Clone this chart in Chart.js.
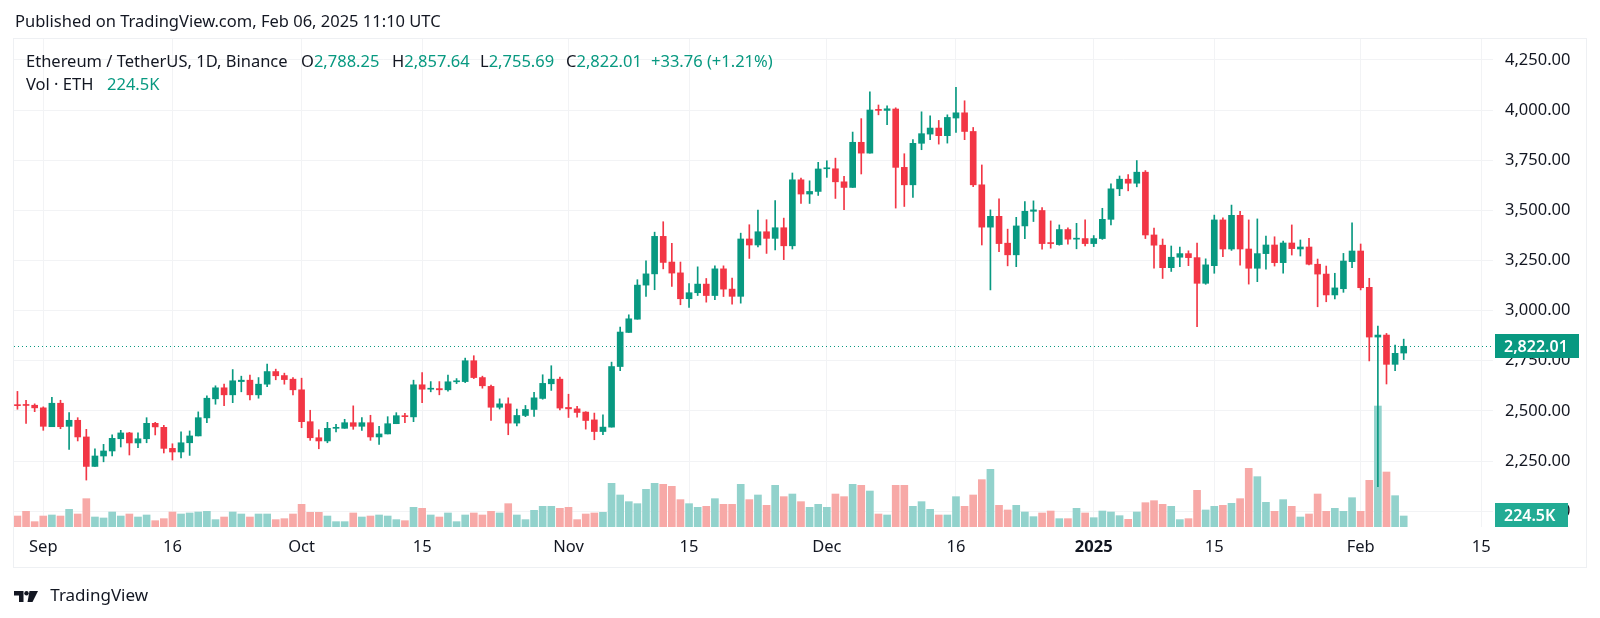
<!DOCTYPE html>
<html>
<head>
<meta charset="utf-8">
<script src="https://cdn.jsdelivr.net/npm/chart.js@4.4.1/dist/chart.umd.min.js"></script>
<style>
  html, body { margin: 0; padding: 0; background: #fff; }
  body { width: 1600px; height: 618px; position: relative; overflow: hidden; font-family: "Noto Sans", sans-serif; color: #131722; }
  #frame { position: absolute; left: 13px; top: 38px; width: 1572px; height: 528px; border: 1px solid #eef0f3; }
  #wrap { position: absolute; left: 0; top: 0; width: 1600px; height: 618px; }
  .txt { position: absolute; white-space: nowrap; font-size: 16.5px; line-height: 22px; }
  .g { color: #089981; }
</style>
</head>
<body>
<div id="frame"></div>
<div id="wrap"><canvas id="ethChart" width="1600" height="618"></canvas></div>

<div class="txt" style="left:15px;top:10px;">Published on TradingView.com, Feb 06, 2025 11:10 UTC</div>
<div class="txt" style="left:26px;top:50px;">Ethereum / TetherUS, 1D, Binance</div>
<div class="txt" style="left:301px;top:50px;">O<span class="g">2,788.25</span></div>
<div class="txt" style="left:392px;top:50px;">H<span class="g">2,857.64</span></div>
<div class="txt" style="left:480px;top:50px;">L<span class="g">2,755.69</span></div>
<div class="txt" style="left:566px;top:50px;">C<span class="g">2,822.01</span></div>
<div class="txt g" style="left:651px;top:50px;">+33.76 (+1.21%)</div>
<div class="txt" style="left:26px;top:73px;">Vol · ETH</div>
<div class="txt g" style="left:107px;top:73px;">224.5K</div>

<div class="txt" style="left:14px;top:584px;">
  <svg width="24" height="11" viewBox="0 0 24 11" style="vertical-align:-1px">
    <path d="M0 0h9.5v11h-4.5v-6.5H0z" fill="#131722"/>
    <circle cx="12.5" cy="2.2" r="2.2" fill="#131722"/>
    <path d="M15.5 0H24L18.5 11h-5z" fill="#131722"/>
  </svg>
  <span style="margin-left:8px;font-size:17px;">TradingView</span>
</div>

<script>
// ETH/USDT daily candles, first candle 29 Aug 2024 (day -3 counted from 1 Sep 2024)
const firstDay = -3;

const open = [
  2528, 2528, 2528, 2515, 2421, 2538, 2423, 2453, 2370, 2223,
  2275, 2300, 2361, 2390, 2340, 2361, 2438, 2418, 2313, 2295,
  2341, 2375, 2465, 2560, 2615, 2580, 2646, 2653, 2580, 2633,
  2696, 2676, 2658, 2605, 2446, 2366, 2350, 2413, 2413, 2441,
  2423, 2441, 2370, 2385, 2436, 2476, 2470, 2630, 2608, 2611,
  2605, 2645, 2646, 2750, 2666, 2622, 2518, 2535, 2439, 2477,
  2507, 2562, 2635, 2658, 2517, 2510, 2494, 2455, 2397, 2419,
  2721, 2891, 2957, 3127, 3183, 3370, 3242, 3188, 3059, 3089,
  3132, 3075, 3208, 3107, 3071, 3357, 3327, 3393, 3360, 3413,
  3323, 3652, 3581, 3594, 3707, 3707, 3642, 3614, 3839, 3785,
  4003, 3998, 4005, 3714, 3627, 3834, 3880, 3910, 3872, 3960,
  3986, 3893, 3627, 3416, 3470, 3336, 3278, 3422, 3495, 3499,
  3337, 3329, 3404, 3356, 3359, 3334, 3359, 3455, 3607, 3655,
  3635, 3690, 3377, 3326, 3214, 3266, 3284, 3264, 3136, 3224,
  3452, 3307, 3475, 3307, 3211, 3284, 3327, 3239, 3337, 3307,
  3317, 3231, 3182, 3078, 3109, 3244, 3297, 3116, 2868, 2878,
  2732, 2788.25
];
const high = [
  2597, 2553, 2535, 2520, 2568, 2553, 2491, 2466, 2408, 2311,
  2333, 2381, 2403, 2393, 2391, 2466, 2443, 2428, 2336, 2395,
  2400, 2495, 2575, 2625, 2633, 2706, 2673, 2678, 2666, 2733,
  2708, 2688, 2666, 2663, 2503, 2406, 2443, 2433, 2458, 2525,
  2466, 2478, 2423, 2471, 2491, 2488, 2653, 2691, 2646, 2646,
  2678, 2661, 2763, 2775, 2673, 2628, 2560, 2565, 2509, 2527,
  2592, 2680, 2725, 2668, 2583, 2522, 2496, 2489, 2480, 2743,
  2918, 2979, 3154, 3248, 3391, 3443, 3335, 3242, 3134, 3218,
  3160, 3223, 3223, 3162, 3386, 3428, 3501, 3453, 3548, 3461,
  3686, 3661, 3647, 3739, 3747, 3760, 3669, 3890, 3957, 4091,
  4025, 4021, 4011, 3782, 3852, 3991, 3971, 3948, 3976, 4113,
  4046, 3913, 3726, 3502, 3557, 3406, 3465, 3544, 3547, 3514,
  3447, 3427, 3412, 3435, 3452, 3374, 3510, 3632, 3671, 3678,
  3748, 3698, 3411, 3357, 3322, 3316, 3298, 3336, 3258, 3476,
  3463, 3526, 3495, 3452, 3457, 3372, 3368, 3347, 3427, 3352,
  3360, 3257, 3222, 3186, 3285, 3438, 3332, 3161, 2923, 2886,
  2828, 2857.64
];
const low = [
  2508, 2437, 2496, 2403, 2421, 2411, 2308, 2350, 2155, 2223,
  2246, 2275, 2320, 2280, 2316, 2341, 2380, 2290, 2255, 2266,
  2278, 2375, 2441, 2533, 2526, 2541, 2595, 2555, 2563, 2621,
  2655, 2633, 2580, 2416, 2353, 2311, 2341, 2395, 2413, 2408,
  2403, 2353, 2333, 2385, 2436, 2441, 2446, 2541, 2595, 2580,
  2598, 2636, 2641, 2661, 2613, 2452, 2509, 2381, 2425, 2471,
  2472, 2558, 2602, 2505, 2467, 2469, 2409, 2356, 2381, 2419,
  2701, 2891, 2957, 3070, 3104, 3208, 3120, 3029, 3016, 3075,
  3042, 3054, 3070, 3032, 3037, 3260, 3317, 3285, 3303, 3254,
  3307, 3534, 3534, 3574, 3664, 3559, 3503, 3614, 3681, 3785,
  3976, 3927, 3511, 3519, 3564, 3802, 3852, 3830, 3835, 3888,
  3852, 3618, 3327, 3103, 3294, 3223, 3219, 3359, 3444, 3306,
  3311, 3326, 3331, 3308, 3322, 3319, 3355, 3427, 3573, 3597,
  3617, 3359, 3211, 3160, 3195, 3219, 3224, 2920, 3131, 3186,
  3269, 3300, 3227, 3132, 3144, 3206, 3222, 3186, 3277, 3272,
  3228, 3019, 3044, 3058, 3091, 3214, 3103, 2749, 2122, 2634,
  2700, 2755.69
];
const close = [
  2526, 2527, 2515, 2423, 2538, 2421, 2453, 2370, 2223, 2275,
  2300, 2363, 2390, 2340, 2361, 2438, 2420, 2313, 2295, 2341,
  2375, 2466, 2563, 2615, 2580, 2650, 2653, 2580, 2633, 2696,
  2675, 2656, 2605, 2446, 2366, 2350, 2413, 2416, 2441, 2423,
  2441, 2370, 2385, 2436, 2476, 2471, 2630, 2608, 2611, 2605,
  2645, 2650, 2750, 2666, 2625, 2518, 2535, 2439, 2477, 2507,
  2565, 2637, 2658, 2514, 2510, 2492, 2452, 2397, 2419, 2721,
  2893, 2959, 3127, 3183, 3370, 3240, 3187, 3059, 3089, 3132,
  3075, 3208, 3107, 3071, 3357, 3327, 3393, 3360, 3413, 3323,
  3652, 3581, 3594, 3706, 3712, 3642, 3614, 3839, 3785, 4000,
  3998, 4006, 3714, 3627, 3834, 3882, 3910, 3872, 3963, 3986,
  3893, 3627, 3416, 3470, 3334, 3278, 3422, 3495, 3502, 3334,
  3334, 3404, 3356, 3361, 3334, 3359, 3455, 3607, 3655, 3635,
  3690, 3377, 3326, 3214, 3266, 3284, 3264, 3136, 3228, 3452,
  3307, 3475, 3307, 3211, 3284, 3327, 3239, 3337, 3309, 3317,
  3231, 3182, 3078, 3113, 3247, 3297, 3114, 2868, 2878, 2732,
  2787, 2822.01
];
// volume in thousands of ETH
const volume = [
  224, 320, 109, 224, 245, 224, 360, 265, 578, 204,
  184, 306, 224, 265, 204, 245, 129, 170, 306, 265,
  286, 306, 320, 150, 204, 306, 265, 204, 265, 265,
  150, 170, 265, 462, 299, 299, 224, 109, 109, 286,
  204, 224, 245, 224, 150, 129, 401, 381, 245, 204,
  286, 109, 245, 286, 245, 320, 286, 476, 245, 150,
  340, 422, 422, 381, 401, 150, 265, 286, 299, 891,
  653, 517, 476, 768, 891, 870, 830, 558, 476, 401,
  422, 578, 462, 462, 870, 558, 653, 442, 850, 619,
  673, 517, 401, 462, 401, 673, 619, 870, 850, 734,
  265, 245, 850, 850, 422, 517, 360, 245, 245, 619,
  422, 653, 966, 1176, 442, 347, 442, 306, 211, 286,
  326, 170, 170, 381, 286, 190, 326, 306, 231, 156,
  306, 496, 537, 462, 422, 150, 170, 748, 347, 422,
  442, 483, 578, 1197, 1027, 503, 320, 558, 422, 204,
  265, 673, 320, 381, 320, 598, 320, 952, 2468, 1122,
  639, 224.5
];

// time axis: day offsets from 1 Sep 2024 and their labels
const tickDays = [0, 15, 30, 44, 61, 75, 91, 106, 122, 136, 153, 167];
const tickLabels = ['Sep', '16', 'Oct', '15', 'Nov', '15', 'Dec', '16', '2025', '15', 'Feb', '15'];

const lastClose = 2822.01;
const lastVolume = 224.5;

const GREEN = '#089981';
const RED = '#f23645';
const VOL_UP = '#92d2cc';
const VOL_DOWN = '#f7a9a7';
const FONT = '"Noto Sans", sans-serif';

const days = open.map((_, i) => firstDay + i);
const isUp = close.map((c, i) => c >= open[i]);
const candleColors = isUp.map(u => u ? GREEN : RED);

// dotted last-price line and the two axis badges
const lastPricePlugin = {
    id: 'lastPrice',
    beforeDatasetsDraw(chart) {
        const { ctx, chartArea, scales } = chart;
        const y = Math.round(scales.y.getPixelForValue(lastClose)) + 0.5;
        ctx.save();
        ctx.strokeStyle = GREEN;
        ctx.lineWidth = 1;
        ctx.setLineDash([1, 3]);
        ctx.beginPath();
        ctx.moveTo(chartArea.left, y);
        ctx.lineTo(chartArea.right, y);
        ctx.stroke();
        ctx.restore();
    },
    afterDraw(chart) {
        const { ctx, scales } = chart;
        const x = chart.chartArea.right + 2;
        const badge = (yv, text, w, color) => {
            ctx.save();
            ctx.fillStyle = color;
            ctx.fillRect(x, Math.round(yv - 12), w, 24);
            ctx.fillStyle = '#fff';
            ctx.font = '600 16px ' + FONT;
            ctx.textBaseline = 'middle';
            ctx.fillText(text, x + 9, yv + 1);
            ctx.restore();
        };
        badge(scales.y.getPixelForValue(lastClose), '2,822.01', 84, GREEN);
        badge(scales.yv.getPixelForValue(lastVolume) - 1, '224.5K', 73, '#22ab94');
    }
};

const ctx = document.getElementById('ethChart').getContext('2d');
const ethChart = new Chart(ctx, {
    type: 'bar',
    data: {
        datasets: [{
            label: 'body',
            data: days.map((d, i) => ({ x: d, y: [open[i], close[i]] })),
            backgroundColor: candleColors,
            barThickness: 6,
            minBarLength: 1,
            grouped: false,
            yAxisID: 'y',
            order: 0
        }, {
            label: 'wick',
            data: days.map((d, i) => ({ x: d, y: [low[i], high[i]] })),
            backgroundColor: candleColors,
            barThickness: 1,
            grouped: false,
            yAxisID: 'y',
            order: 1
        }, {
            label: 'volume',
            data: days.map((d, i) => ({ x: d, y: volume[i] })),
            backgroundColor: isUp.map(u => u ? VOL_UP : VOL_DOWN),
            barThickness: 7,
            grouped: false,
            yAxisID: 'yv',
            order: 2
        }]
    },
    options: {
        responsive: false,
        animation: false,
        devicePixelRatio: 1,
        layout: { padding: { left: 14, top: 39, right: 15, bottom: 51 } },
        plugins: {
            legend: { display: false },
            tooltip: { enabled: false }
        },
        scales: {
            x: {
                type: 'linear',
                min: -3.4,
                max: 168.37,
                offset: false,
                grid: { color: '#f2f3f5', offset: false, drawTicks: false },
                border: { display: false },
                afterBuildTicks: scale => {
                    scale.ticks = tickDays.map(v => ({ value: v }));
                },
                afterFit: scale => { scale.height = 40; },
                ticks: {
                    autoSkip: false,
                    maxRotation: 0,
                    padding: 10,
                    color: '#131722',
                    font: c => ({ family: FONT, size: 16.5, weight: (c.tick && c.tick.value === 122) ? '700' : '400' }),
                    callback: v => tickLabels[tickDays.indexOf(v)]
                }
            },
            y: {
                position: 'right',
                min: 1921,
                max: 4354,
                grid: { color: '#f2f3f5', drawTicks: false },
                border: { display: false },
                afterFit: scale => { scale.width = 92; },
                ticks: {
                    stepSize: 250,
                    includeBounds: false,
                    padding: 12,
                    color: '#131722',
                    font: { family: FONT, size: 16.5 },
                    callback: v => v.toLocaleString('en-US', { minimumFractionDigits: 2, maximumFractionDigits: 2 })
                }
            },
            yv: {
                display: false,
                min: 0,
                max: 9955
            }
        }
    },
    plugins: [lastPricePlugin]
});
</script>
</body>
</html>
